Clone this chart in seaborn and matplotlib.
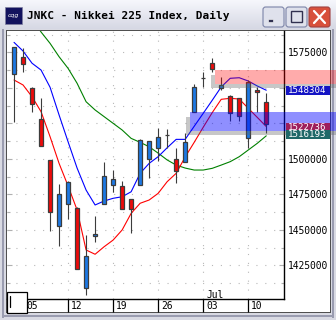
import numpy as np
import pandas as pd
import matplotlib
matplotlib.use("Agg")
import matplotlib.pyplot as plt
import seaborn as sns
from matplotlib.patches import Rectangle, FancyBboxPatch
from matplotlib.transforms import blended_transform_factory, ScaledTranslation

# ---------------- data ----------------
dates = ["2006-06-02", "2006-06-05", "2006-06-06", "2006-06-07", "2006-06-08", "2006-06-09",
         "2006-06-12", "2006-06-13", "2006-06-14", "2006-06-15", "2006-06-16",
         "2006-06-19", "2006-06-20", "2006-06-21", "2006-06-22", "2006-06-23",
         "2006-06-26", "2006-06-27", "2006-06-28", "2006-06-29", "2006-06-30",
         "2006-07-03", "2006-07-04", "2006-07-05", "2006-07-06", "2006-07-07",
         "2006-07-10", "2006-07-11", "2006-07-12"]
opens = [1559500, 1571500, 1549700, 1527800, 1499200, 1452900, 1468400, 1465100, 1408800, 1445400,
         1468000, 1481300, 1480900, 1471500, 1481300, 1499700, 1507400, 1516600, 1499900, 1498000,
         1532800, 1556600, 1567700, 1549700, 1544400, 1542600, 1514400, 1548500, 1539800]
highs = [1578500, 1577800, 1550400, 1542600, 1499200, 1482300, 1484400, 1465900, 1446300, 1459700,
         1497500, 1492100, 1484400, 1471500, 1513700, 1512300, 1521500, 1521000, 1507400, 1518000,
         1552500, 1561300, 1571200, 1557800, 1544900, 1542600, 1555500, 1550800, 1546600]
lows = [1526100, 1561300, 1533200, 1509200, 1449400, 1438600, 1457600, 1422200, 1404100, 1441600,
        1468000, 1476800, 1464400, 1448000, 1481300, 1486300, 1498500, 1507600, 1482800, 1498000,
        1532800, 1550800, 1560900, 1548500, 1526800, 1526800, 1507400, 1532800, 1518000]
closes = [1578500, 1566600, 1538400, 1509200, 1462800, 1475000, 1483500, 1422200, 1431300, 1447100,
          1487900, 1485600, 1464400, 1464400, 1513200, 1512300, 1515100, 1516900, 1491600, 1511600,
          1550400, 1556800, 1563200, 1552000, 1532500, 1530400, 1554300, 1546800, 1524500]
# three study lines (blue, red, green)
line_blue = [1582000, 1575900, 1567300, 1562500, 1550400, 1530900, 1512000, 1493500, 1478000, 1467500,
             1470300, 1472200, 1473300, 1476800, 1489800, 1496800, 1501500, 1507800, 1513700, 1513700,
             1522900, 1532000, 1541200, 1550600, 1556700, 1557100, 1554800, 1551300, 1548304]
line_red = [1555500, 1552000, 1543700, 1533200, 1515600, 1496800, 1480900, 1464000, 1435800, 1432800,
            1438100, 1442800, 1449900, 1461600, 1468700, 1471000, 1475700, 1483900, 1489800, 1501300,
            1511600, 1522200, 1532500, 1541900, 1542600, 1542100, 1535600, 1529200, 1522736]
line_green = [np.nan, np.nan, 1599200, 1589300, 1581300, 1571900, 1563700, 1553200, 1540200, 1534400,
              1529700, 1525000, 1520300, 1514400, 1511600, 1508500, 1504000, 1499200, 1495600, 1493500,
              1492100, 1492100, 1493300, 1495600, 1498000, 1501500, 1506200, 1510900, 1516193]
last_labels = ["1548304", "1522736", "1516193"]
pink_zone = (1552700, 1562800)
blue_zone = (1519600, 1533200)
y_ticks = [1425000, 1450000, 1475000, 1500000, 1525000, 1550000, 1575000]
y_tick_labels = ["1425000", "1450000", "1475000", "1500000", "", "", "1575000"]  # 1525000/1550000 hidden under value boxes
title = "JNKC - Nikkei 225 Index, Daily"

df = pd.DataFrame({"date": pd.to_datetime(dates), "open": opens, "high": highs,
                   "low": lows, "close": closes, "blue": line_blue, "red": line_red,
                   "green": line_green})
df["i"] = np.arange(len(df))

# ---------------- figure ----------------
sns.set_theme(style="white")
plt.rcParams["font.family"] = ["DejaVu Sans Mono", "DejaVu Sans"]
W, H = 336, 320
fig = plt.figure(figsize=(W / 100, H / 100), dpi=100)
fig.patch.set_facecolor("#d9dae3")


def fx(px):
    return px / W


def fy(py):
    return 1 - py / H


def frect(x0, y0, x1, y1, **kw):
    r = Rectangle((fx(x0), fy(y1)), (x1 - x0) / W, (y1 - y0) / H, transform=fig.transFigure, **kw)
    fig.patches.append(r)
    return r


# title bar gradient
tb = fig.add_axes([0, fy(29), 1, 29 / H], zorder=0)
grad = np.linspace(0, 1, 64)[:, None]
c0 = np.array([246, 247, 252]) / 255
c1 = np.array([214, 216, 228]) / 255
img = c0[None, None, :] * (1 - grad[:, :, None]) + c1[None, None, :] * grad[:, :, None]
tb.imshow(np.repeat(img, 2, axis=1), aspect="auto", extent=[0, 1, 0, 1])
tb.set_axis_off()

# window frame stripes
frect(0, 29, 336, 320, facecolor="#d9dae3", edgecolor="none", zorder=0.5)
frect(2, 29, 4, 318, facecolor="#9a9cb0", edgecolor="none", zorder=0.6)
frect(332, 29, 334, 318, facecolor="#9a9cb0", edgecolor="none", zorder=0.6)
frect(2, 315, 334, 317, facecolor="#9a9cb0", edgecolor="none", zorder=0.6)
frect(6, 30, 331, 313, facecolor="#505050", edgecolor="none", zorder=0.7)
frect(7, 31, 330, 312, facecolor="white", edgecolor="none", zorder=0.8)

# icon
frect(5, 7, 22, 24, facecolor="#12125e", edgecolor="#8080a0", linewidth=0.5, zorder=1)
fig.text(fx(13.5), fy(15.5), "cqg", color="white", fontsize=4.5, ha="center", va="center",
         style="italic", family="DejaVu Sans", zorder=2)
fig.text(fx(27), fy(16), title, fontsize=8.0, fontweight="bold", ha="left", va="center",
         color="black", zorder=2)


def button(x0, x1, fc, ec):
    b = FancyBboxPatch((fx(x0), fy(27)), (x1 - x0) / W, 20 / H,
                       boxstyle="round,pad=0,rounding_size=0.008",
                       transform=fig.transFigure, facecolor=fc, edgecolor=ec,
                       linewidth=0.8, zorder=1)
    fig.patches.append(b)


button(263, 284, "#dfe1ec", "#7c84a8")
button(286, 307, "#dfe1ec", "#7c84a8")
button(309, 330, "#d8503c", "#a04040")
frect(268, 19, 273, 22, facecolor="#303050", edgecolor="white", linewidth=0.4, zorder=2)
frect(291, 11, 302, 22, facecolor="none", edgecolor="#303050", linewidth=1.0, zorder=2)
fig.lines.append(plt.Line2D([fx(314), fx(325)], [fy(11), fy(23)], transform=fig.transFigure,
                            color="white", linewidth=1.6, zorder=3))
fig.lines.append(plt.Line2D([fx(314), fx(325)], [fy(23), fy(11)], transform=fig.transFigure,
                            color="white", linewidth=1.6, zorder=3))

# ---------------- chart axes ----------------
AX_W_PX = 284 - 7
ax = fig.add_axes([fx(7), fy(299), AX_W_PX / W, (299 - 31) / H], zorder=5)
ax.set_facecolor("white")
ax.patch.set_alpha(0)
ax.set_xlim(-0.78, 29.97)
ax.set_ylim(1401300, 1590000)

# grid (dotted)
mondays = df.index[df["date"].dt.dayofweek == 0].tolist()
for i in mondays[1:]:
    ax.axvline(i, color="#b8b8b8", linewidth=0.8, linestyle=(0, (1, 7)), zorder=0.5)
for v in np.arange(1412500, 1590000, 12500):
    ax.axhline(v, color="#b8b8b8", linewidth=0.8, linestyle=(0, (1, 7)), zorder=0.5)

# study lines via seaborn
sns.lineplot(data=df, x="i", y="green", color="#008000", linewidth=0.8, ax=ax, estimator=None,
             zorder=2)
sns.lineplot(data=df, x="i", y="red", color="#ff0000", linewidth=0.8, ax=ax, estimator=None,
             zorder=2)
sns.lineplot(data=df, x="i", y="blue", color="#0000ff", linewidth=0.8, ax=ax, estimator=None,
             zorder=2)

# candles
up = df["close"] >= df["open"]
ax.vlines(df["i"], df["low"], df["high"], color="#3c3c3c", linewidth=0.8, zorder=3)
body_bot = np.minimum(df["open"], df["close"])
body_h = np.maximum(np.abs(df["close"] - df["open"]), 250)
ax.bar(df["i"], body_h, bottom=body_bot, width=0.46,
       color=np.where(up, "#1c78e4", "#ee0a0a"), edgecolor="#3c3c3c", linewidth=0.9, zorder=4)

# axes styling
ax.set_xlabel("")
ax.set_ylabel("")
for s in ["left", "top"]:
    ax.spines[s].set_visible(False)
ax.spines["right"].set_color("black")
ax.spines["bottom"].set_color("black")
ax.spines["right"].set_linewidth(1.0)
ax.spines["bottom"].set_linewidth(1.0)

ax.yaxis.tick_right()
ax.set_yticks(y_ticks)
ax.set_yticklabels(y_tick_labels)
ax.tick_params(axis="y", which="major", direction="in", length=3.6, color="#b0b0b0",
               labelsize=6.9, pad=2.8, labelcolor="black", right=True, left=True, width=0.8)
ax.yaxis.set_minor_locator(matplotlib.ticker.MultipleLocator(12500))
ax.tick_params(axis="y", which="minor", direction="in", length=2.2, color="#b0b0b0",
               right=True, left=True, width=0.8)

ax.set_xticks(mondays)
ax.set_xticklabels([])
ax.tick_params(axis="x", which="major", direction="out", length=9.6, color="black",
               width=0.9, bottom=True)
xt = blended_transform_factory(ax.transData, ax.transAxes)
for i in mondays:
    d = df.loc[i, "date"]
    ax.text(i, 0, f"{d.day:02d}", transform=xt + ScaledTranslation(3 / 100, -7 / 100, fig.dpi_scale_trans),
            ha="left", va="center", fontsize=6.9, color="black", clip_on=False)
    if d.day <= 7 and d.month != df.loc[0, "date"].month:
        ax.text(i, 0, d.strftime("%b"), transform=xt + ScaledTranslation(3 / 100, 4 / 100, fig.dpi_scale_trans),
                ha="left", va="center", fontsize=6.9, color="black", clip_on=False)

# zones with shadows
px_x = 1 / 9.01
px_y = 704.2
for (lo, hi), left, col, a in [(pink_zone, 22.3, "#ff0000", 0.33),
                               (blue_zone, 19.5, "#0000ff", 0.44)]:
    right = 36
    ax.add_patch(Rectangle((left - 4 * px_x, lo - 4.5 * px_y), 4 * px_x, (hi - lo) - 0.5 * px_y,
                           facecolor="#606060", alpha=0.35, edgecolor="none", clip_on=False, zorder=6))
    ax.add_patch(Rectangle((left, lo - 4.5 * px_y), right - left, 4.5 * px_y,
                           facecolor="#606060", alpha=0.35, edgecolor="none", clip_on=False, zorder=6))
    ax.add_patch(Rectangle((left, lo), right - left, hi - lo, facecolor=col, alpha=a,
                           edgecolor="none", clip_on=False, zorder=7))

# last value labels (boxes 9 px tall, 44 px wide)
yt = blended_transform_factory(ax.transAxes, ax.transData)
for val, lab, fc, nudge in [(line_blue[-1], last_labels[0], "#1414c4", 0.0),
                            (line_red[-1], last_labels[1], "#9e1e5c", -0.8),
                            (line_green[-1], last_labels[2], "#1f6868", 1.2)]:
    yc = val + nudge * px_y
    ax.add_patch(Rectangle((1 + 1.5 / AX_W_PX, yc - 4.6 * px_y), 44 / AX_W_PX, 9.2 * px_y,
                           transform=yt, facecolor=fc, edgecolor="none", clip_on=False, zorder=8))
    ax.text(1.0, yc, lab, transform=yt + ScaledTranslation(3.5 / 100, 0, fig.dpi_scale_trans),
            ha="left", va="center", fontsize=6.6, color="white", clip_on=False, zorder=9)

# bottom-left box
frect(7, 292, 27, 313, facecolor="white", edgecolor="black", linewidth=0.9, zorder=10)
fig.lines.append(plt.Line2D([fx(9.5), fx(9.5)], [fy(296), fy(307)], transform=fig.transFigure,
                            color="black", linewidth=0.9, zorder=11))

fig.savefig("out.png", dpi=100)
